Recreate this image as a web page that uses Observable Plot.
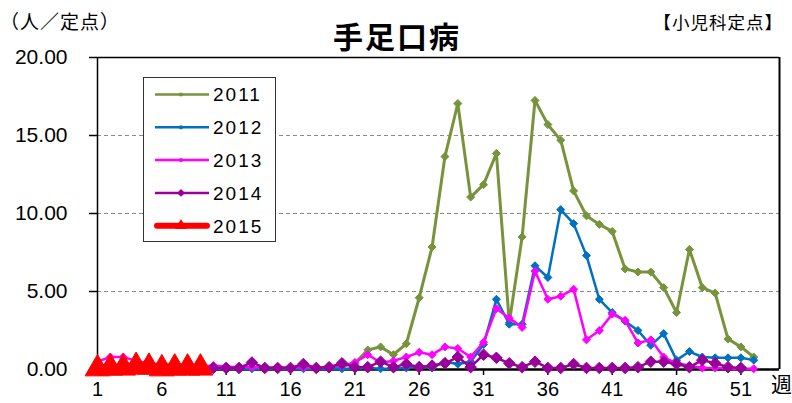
<!DOCTYPE html>
<html><head><meta charset="utf-8">
<script src="https://cdn.jsdelivr.net/npm/d3@7"></script>
<script src="https://cdn.jsdelivr.net/npm/@observablehq/plot@0.6"></script>
<style>
body{margin:0;background:#fff;}
#wrap{position:relative;width:792px;height:403px;overflow:hidden;}
.abs{position:absolute;white-space:nowrap;line-height:1;font-family:"Noto Sans CJK JP",sans-serif;color:#000;}
#legend{position:absolute;left:143px;top:77px;width:133px;height:165px;background:#fff;border:1px solid #333;box-sizing:border-box;}
</style></head><body><div id="wrap"></div>
<script>
// ---- data ----
const weeks = [1,2,3,4,5,6,7,8,9,10,11,12,13,14,15,16,17,18,19,20,21,22,23,24,25,26,27,28,29,30,31,32,33,34,35,36,37,38,39,40,41,42,43,44,45,46,47,48,49,50,51,52];
const years = ["2011","2012","2013","2014","2015"];
const v2011 = [0.2,0.2,0.2,0.25,0.3,0.35,0.3,0.25,0.2,0.15,0.1,0.1,0.1,0.1,0.1,0.1,0.1,0.1,0.15,0.2,0.4,
  1.25,1.45,0.95,1.65,4.6,7.85,13.65,17.05,11.05,11.85,13.85,3.0,8.5,17.25,15.7,14.7,11.45,9.85,9.3,8.85,6.45,6.25,6.25,5.25,3.65,7.7,5.25,4.9,1.95,1.45,0.8];
const v2012 = [0.3,0.25,0.2,0.15,0.1,0.1,0.1,0.05,0.05,0.05,0.05,0.05,0.05,0.05,0.05,0.05,0.05,0.05,0.05,0.05,0.05,
  0.1,0.05,0.05,0.1,0.25,0.1,0.5,0.35,0.5,1.6,4.5,2.9,2.9,6.65,5.9,10.25,9.35,7.3,4.5,3.65,3.1,2.5,1.55,2.3,0.6,1.15,0.8,0.75,0.75,0.75,0.6];
const v2013 = [0.5,0.8,0.8,0.55,0.4,0.3,0.3,0.25,0.2,0.25,0.2,0.15,0.15,0.1,0.15,0.1,0.15,0.1,0.2,0.25,0.45,
  0.95,0.45,0.55,0.8,1.1,0.95,1.45,1.35,0.8,1.75,3.9,3.3,2.7,6.3,4.5,4.7,5.15,1.9,2.5,3.55,3.15,1.7,1.9,0.8,0.4,0.25,0.1,0.1,0.05,0.05,0.05];
const v2014 = [0.1,0.1,0.1,0.1,0.1,0.1,0.1,0.1,0.1,0.1,0.1,0.1,0.45,0.1,0.1,0.1,0.35,0.1,0.15,0.4,0.15,
  0.15,0.5,0.15,0.35,0.15,0.25,0.4,0.8,0.15,0.95,0.75,0.4,0.15,0.5,0.1,0.1,0.35,0.1,0.1,0.1,0.1,0.15,0.5,0.5,0.35,0.15,0.6,0.4,0.15,0.1];
const v2015 = [0.05,0.1,0.1,0.2,0.15,0.05,0.1,0.1,0.1];
const yTicks = [0,5,10,15,20];
const xTicks = [1,6,11,16,21,26,31,36,41,46,51];
const gridValues = [5,10,15];

// ---- styles ----
const seriesValues = [v2011,v2012,v2013,v2014,v2015];
const styles = [
  {color:"#77933C", width:3, symbol:"diamond2", r:3.6},
  {color:"#0070C0", width:2.5, symbol:"diamond2", r:3.6},
  {color:"#FF00FF", width:2.5, symbol:"diamond2", r:3.6},
  {color:"#990099", width:2.5, symbol:"diamond2", r:5.2},
  {color:"#FF0000", width:6, symbol:"triangle", r:9.2}
];

const rows = [];
years.forEach((y,i)=>seriesValues[i].forEach((v,j)=>rows.push({year:y, week:weeks[j], value:v})));

const seriesMarks = [];
years.forEach((y,i)=>{
  const d = rows.filter(r=>r.year===y);
  const s = styles[i];
  seriesMarks.push(Plot.line(d,{x:"week",y:"value",stroke:s.color,strokeWidth:s.width,strokeLinejoin:"round"}));
  seriesMarks.push(Plot.dot(d,{x:"week",y:"value",symbol:()=>s.symbol,r:s.r,fill:s.color,stroke:s.color,strokeWidth:1}));
});

const chart = Plot.plot({
  width:792, height:403,
  marginLeft:97, marginRight:13, marginTop:57, marginBottom:34,
  x:{type:"linear", domain:[1,54]},
  y:{domain:[0,20]},
  symbol:{type:"identity"},
  style:{fontFamily:"'Liberation Sans', Arial, sans-serif", fontSize:"21px", background:"transparent", color:"#000"},
  marks:[
    Plot.ruleY(gridValues,{stroke:"#8a8a8a",strokeDasharray:"4,3",strokeWidth:1}),
    Plot.ruleY([20],{stroke:"#000",strokeWidth:1.5}),
    Plot.ruleX([54],{stroke:"#000",strokeWidth:2}),
    Plot.axisY({ticks:yTicks, tickFormat:d=>d.toFixed(2), tickSize:8, tickPadding:22, fontSize:21, label:null, stroke:"#000", strokeWidth:1.5}),
    Plot.axisX({ticks:xTicks, tickFormat:d=>String(d), tickSize:6, tickPadding:6, fontSize:20, label:null, stroke:"#000", strokeWidth:1.5}),
    Plot.ruleX([1],{stroke:"#000",strokeWidth:1.5}),
    Plot.ruleY([0],{stroke:"#000",strokeWidth:2.5}),
    ...seriesMarks
  ]
});
const wrap = document.getElementById("wrap");
chart.style.position="absolute"; chart.style.left="0"; chart.style.top="0";
wrap.appendChild(chart);

function addText(txt, css){
  const d=document.createElement("div"); d.className="abs"; d.textContent=txt;
  Object.assign(d.style, css); wrap.appendChild(d);
}
addText("（人／定点）",{left:"0px",top:"11px",fontSize:"19px",letterSpacing:"1px"});
addText("手足口病",{left:"397px",top:"20px",fontSize:"30px",fontWeight:"bold",letterSpacing:"2px",transform:"translateX(-50%)"});
addText("【小児科定点】",{right:"9px",top:"13px",fontSize:"17.5px",letterSpacing:"1px"});
addText("週",{left:"771px",top:"373px",fontSize:"21px"});

// legend
const leg=document.createElement("div"); leg.id="legend"; wrap.appendChild(leg);
const ns="http://www.w3.org/2000/svg";
const ls=document.createElementNS(ns,"svg"); ls.setAttribute("width","131"); ls.setAttribute("height","163");
leg.appendChild(ls);
const legSym = {diamond2:d3.symbolDiamond2, triangle:d3.symbolTriangle};
years.forEach((y,i)=>{
  const s=styles[i]; const cy=16.5+i*32.8;
  const ln=document.createElementNS(ns,"line");
  ln.setAttribute("x1",i===4?13:11); ln.setAttribute("x2",i===4?63:65); ln.setAttribute("y1",cy); ln.setAttribute("y2",cy);
  ln.setAttribute("stroke",s.color); ln.setAttribute("stroke-width",i===4?6:2.5); ln.setAttribute("stroke-linecap",i===4?"round":"butt");
  ls.appendChild(ln);
  const p=document.createElementNS(ns,"path");
  const size = i===4?60: (i===3?40:14);
  p.setAttribute("d", i<3 ? d3.symbol(d3.symbolCircle,size)() : d3.symbol(legSym[s.symbol],size)());
  p.setAttribute("transform",`translate(37,${cy})`); p.setAttribute("fill",s.color);
  ls.appendChild(p);
  const t=document.createElementNS(ns,"text");
  t.setAttribute("x",69); t.setAttribute("y",cy); t.setAttribute("dy","0.36em");
  t.setAttribute("font-family","'Liberation Sans', Arial, sans-serif"); t.setAttribute("font-size","19");
  t.setAttribute("letter-spacing","2"); t.textContent=y;
  ls.appendChild(t);
});
</script></body></html>
